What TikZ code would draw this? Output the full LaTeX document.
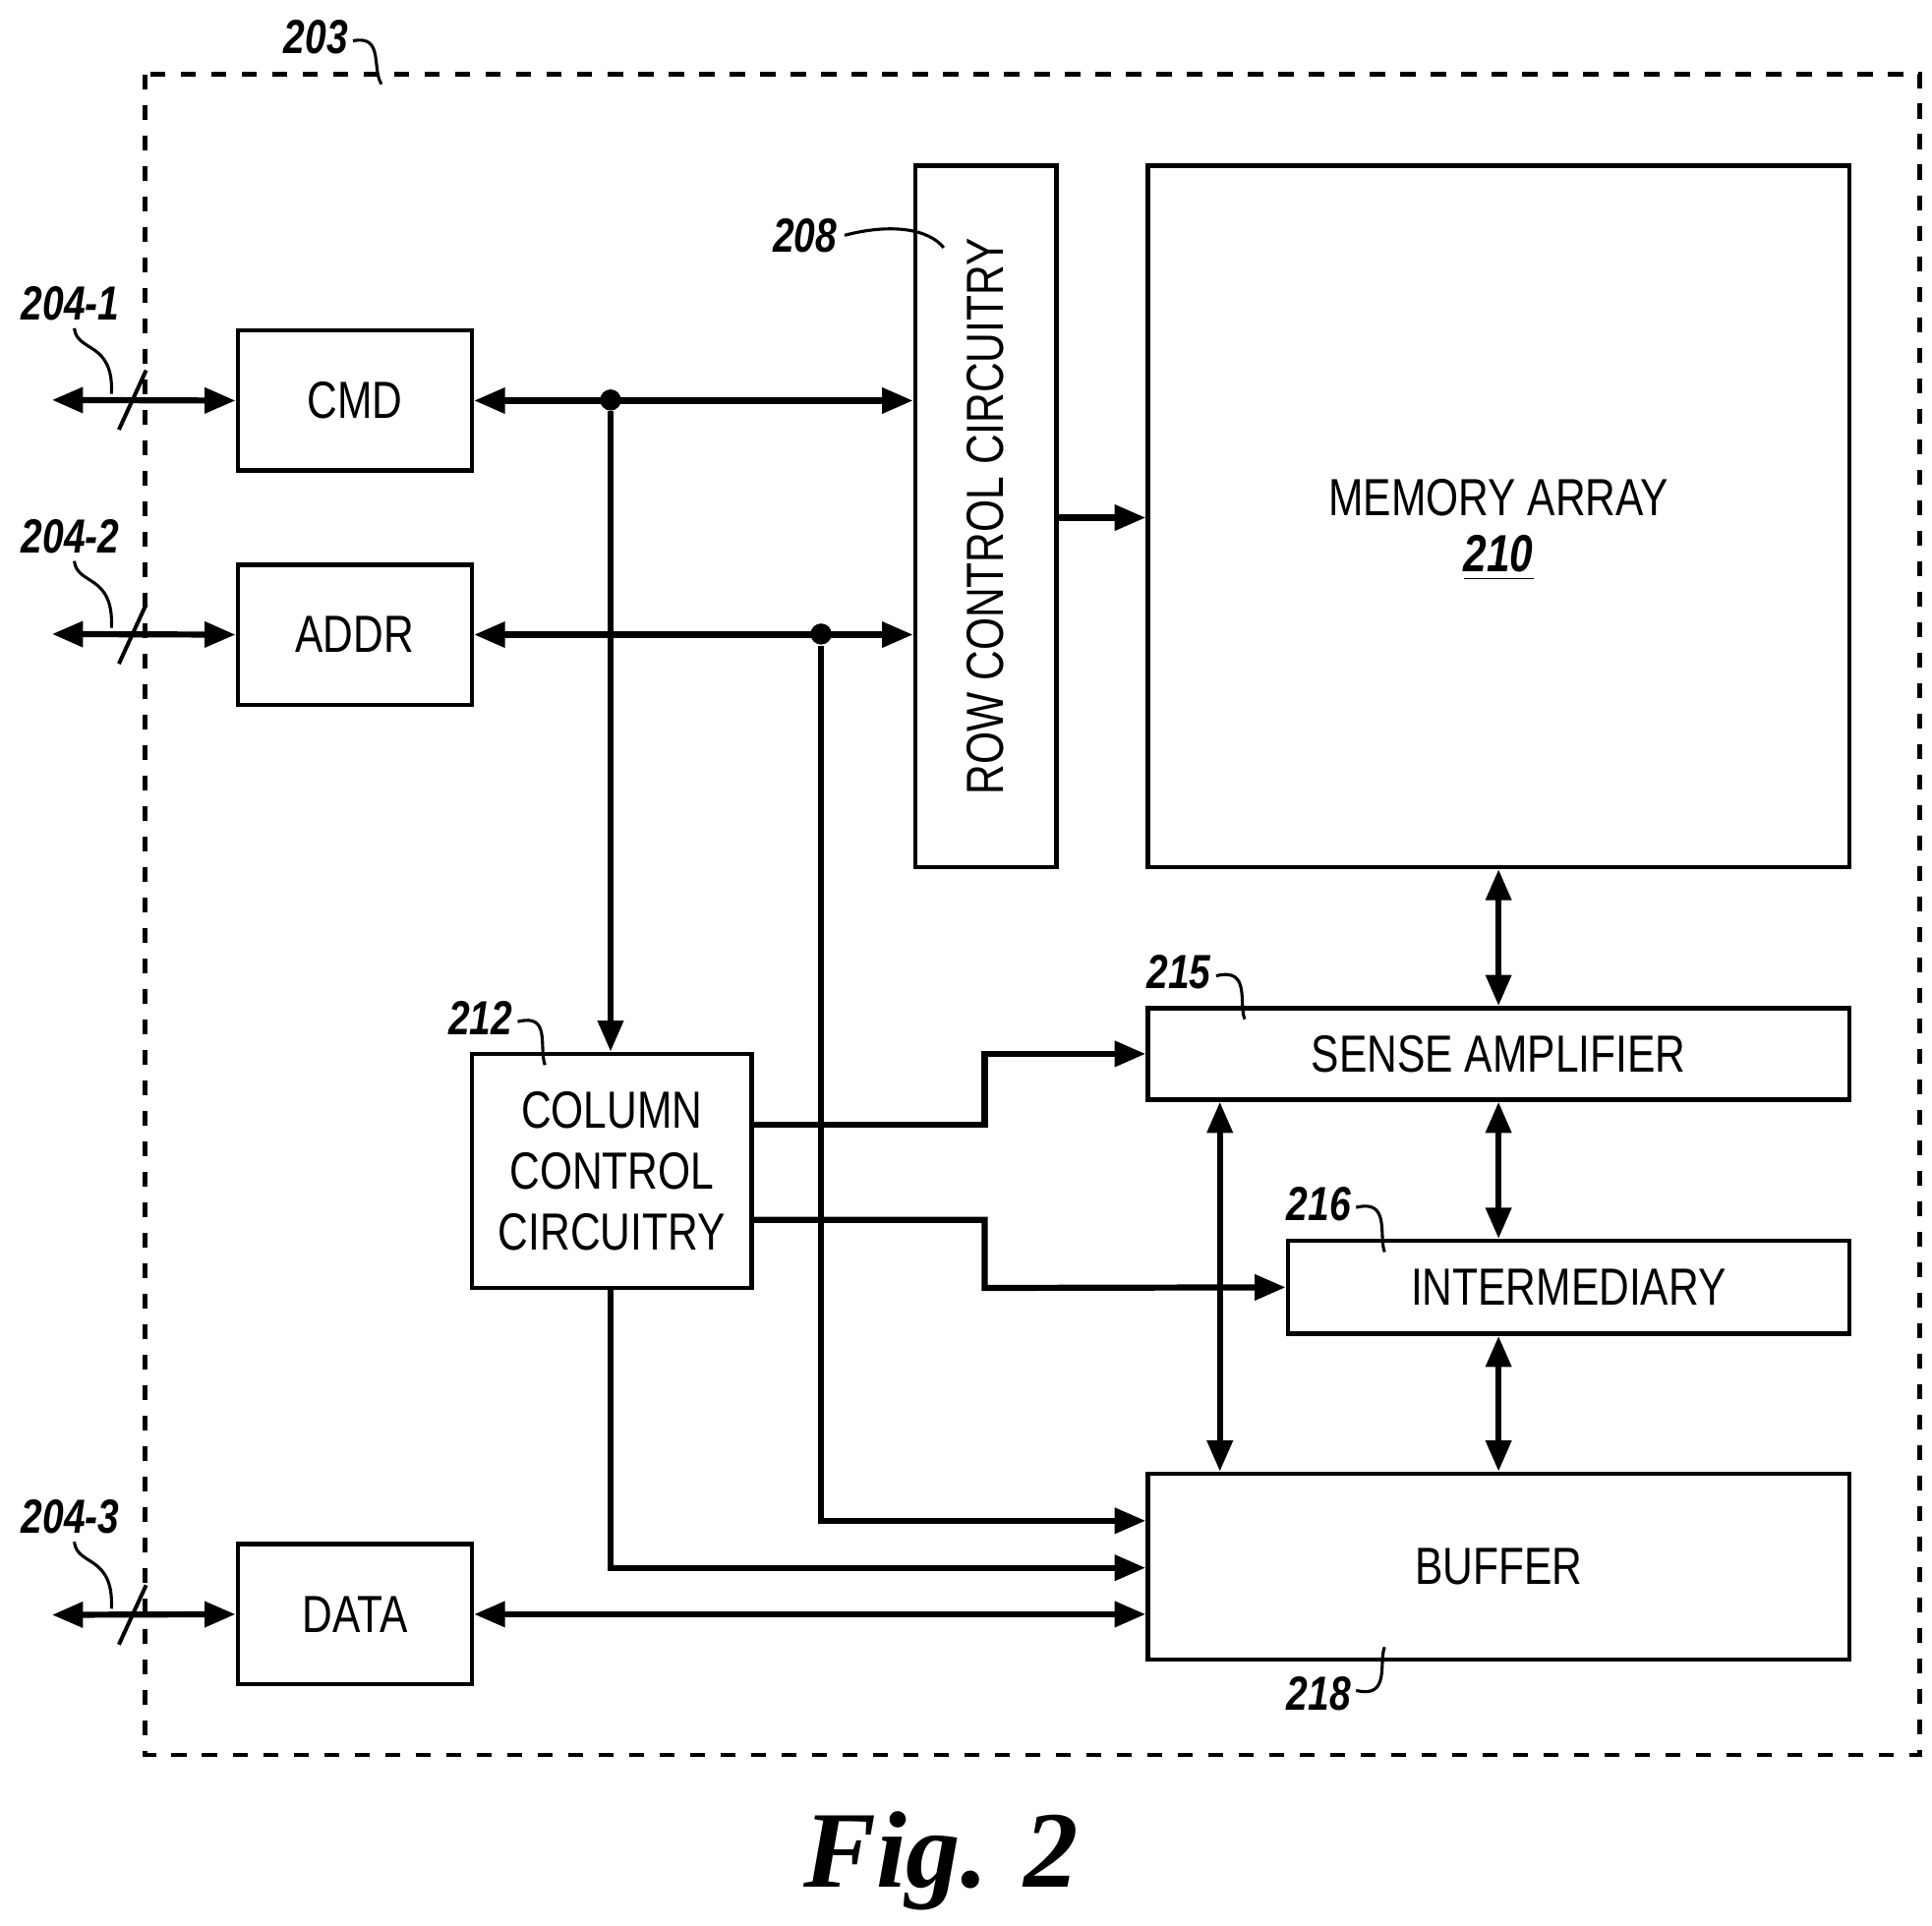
\documentclass[tikz,border=0pt]{standalone}
\usepackage{fontspec}
\setmainfont{Liberation Sans}[FakeStretch=0.8]
\newfontfamily\figfont{Liberation Serif}
\usetikzlibrary{arrows.meta}

\begin{document}
\begin{tikzpicture}[x=0.01cm, y=-0.01cm,
    blk/.style = {draw, line width=1pt, inner sep=0pt, font=\fontsize{12}{14}\selectfont, align=center},
    bus/.style = {line width=1.4pt, -{Triangle[length=0.25cm,width=0.2cm]}},
    bibus/.style = {line width=1.4pt, {Triangle[length=0.25cm,width=0.2cm]}-{Triangle[length=0.25cm,width=0.2cm]}},
    ref/.style = {font=\fontsize{11}{13}\selectfont\bfseries\itshape},
    lead/.style = {line width=0.7pt},
    dot/.style = {circle, fill, inner sep=0pt, minimum size=0.17cm}]
    \useasboundingbox (0,0) rectangle (1560,1555);
    \draw [line width=1pt, dash pattern=on 3.5pt off 3.5pt] (117,60) rectangle (1550,1417);

    % boxes
    \node [blk, minimum width=1.89cm, minimum height=1.13cm] (cmd) at (286.5,323.5) {CMD};
    \node [blk, minimum width=1.89cm, minimum height=1.13cm] (addr) at (286.5,512.5) {ADDR};
    \node [blk, minimum width=1.89cm, minimum height=1.13cm] (data) at (286.5,1303.5) {DATA};
    \node [blk, minimum width=1.14cm, minimum height=5.66cm] (row) at (796,417) {};
    \node [font=\fontsize{12}{14}\selectfont, rotate=90] at (796,417) {ROW CONTROL CIRCUITRY};
    \node [blk, minimum width=5.66cm, minimum height=5.66cm] (mem) at (1210,417) {};
    \node [font=\fontsize{12}{14}\selectfont, align=center] at (1210,428) {MEMORY ARRAY\\[-1pt] {\bfseries\itshape\underline{210}}};
    \node [blk, minimum width=5.66cm, minimum height=0.74cm] (sense) at (1210,851) {SENSE AMPLIFIER};
    \node [blk, minimum width=4.53cm, minimum height=0.75cm] (inter) at (1266.5,1039.5) {INTERMEDIARY};
    \node [blk, minimum width=5.66cm, minimum height=1.5cm] (buf) at (1210,1265) {BUFFER};
    \node [blk, minimum width=2.26cm, minimum height=1.89cm] (col) at (494,945.5) {COLUMN\\CONTROL\\CIRCUITRY};

    % external ports
    \coordinate (p1) at (42,323);
    \coordinate (p2) at (42,512);
    \coordinate (p3) at (42,1304);
    \draw [bibus] (p1) -- (cmd.west);
    \draw [bibus] (p2) -- (addr.west);
    \draw [bibus] (p3) -- (data.west);
    \foreach \y in {323,512,1304}
        \draw [line width=0.9pt] (96,\y+24) -- (118,\y-24);

    % connections
    \node [dot] (d1) at (493,323) {};
    \node [dot] (d2) at (663,512) {};
    \draw [bibus] (cmd.east) -- (row.west |- cmd.east);
    \draw [bibus] (addr.east) -- (row.west |- addr.east);
    \draw [bus] (d1) -- (col.north -| d1);
    \draw [bus] (d2) -- (663,1228) -- (buf.west |- 0,1228);
    \draw [bus] (row.east |- 0,418) -- (mem.west |- 0,418);
    \draw [bibus] (mem.south -| 1210,0) -- (sense.north -| 1210,0);
    \draw [bibus] (sense.south -| 1210,0) -- (inter.north -| 1210,0);
    \draw [bibus] (inter.south -| 1210,0) -- (buf.north -| 1210,0);
    \draw [bibus] (sense.south -| 985,0) -- (buf.north -| 985,0);
    \draw [bus] (col.east |- 0,908) -- (795,908) -- (795,851) -- (sense.west);
    \draw [bus] (col.east |- 0,985) -- (795,985) -- (795,1040) -- (inter.west);
    \draw [bus] (col.south -| 493,0) -- (493,1266) -- (buf.west |- 0,1266);
    \draw [bibus] (data.east) -- (buf.west |- data.east);

    % reference numerals
    \node [ref] (l203) at (255,30) {203};
    \draw [lead] (285,33) .. controls (310,28) and (300,55) .. (308,68);
    \node [ref] (l2041) at (57,245) {204-1};
    \draw [lead] (60,265) .. controls (62,285) and (92,275) .. (90,318);
    \node [ref] (l2042) at (57,433) {204-2};
    \draw [lead] (60,453) .. controls (62,473) and (92,463) .. (90,507);
    \node [ref] (l2043) at (57,1225) {204-3};
    \draw [lead] (60,1245) .. controls (62,1265) and (92,1255) .. (90,1299);
    \node [ref] (l208) at (650,190) {208};
    \draw [lead] (682,190) .. controls (720,180) and (750,185) .. (762,200);
    \node [ref] (l212) at (388,822) {212};
    \draw [lead] (418,825) .. controls (445,818) and (435,845) .. (440,860);
    \node [ref] (l215) at (952,785) {215};
    \draw [lead] (982,788) .. controls (1010,781) and (1000,810) .. (1005,823);
    \node [ref] (l216) at (1065,972) {216};
    \draw [lead] (1095,975) .. controls (1123,968) and (1113,998) .. (1118,1011);
    \node [ref] (l218) at (1065,1368) {218};
    \draw [lead] (1095,1365) .. controls (1123,1372) and (1113,1342) .. (1118,1330);

    \node [font=\figfont\fontsize{25}{28}\selectfont\bfseries\itshape] (fig) at (760,1503) {Fig. 2};
\end{tikzpicture}
\end{document}
